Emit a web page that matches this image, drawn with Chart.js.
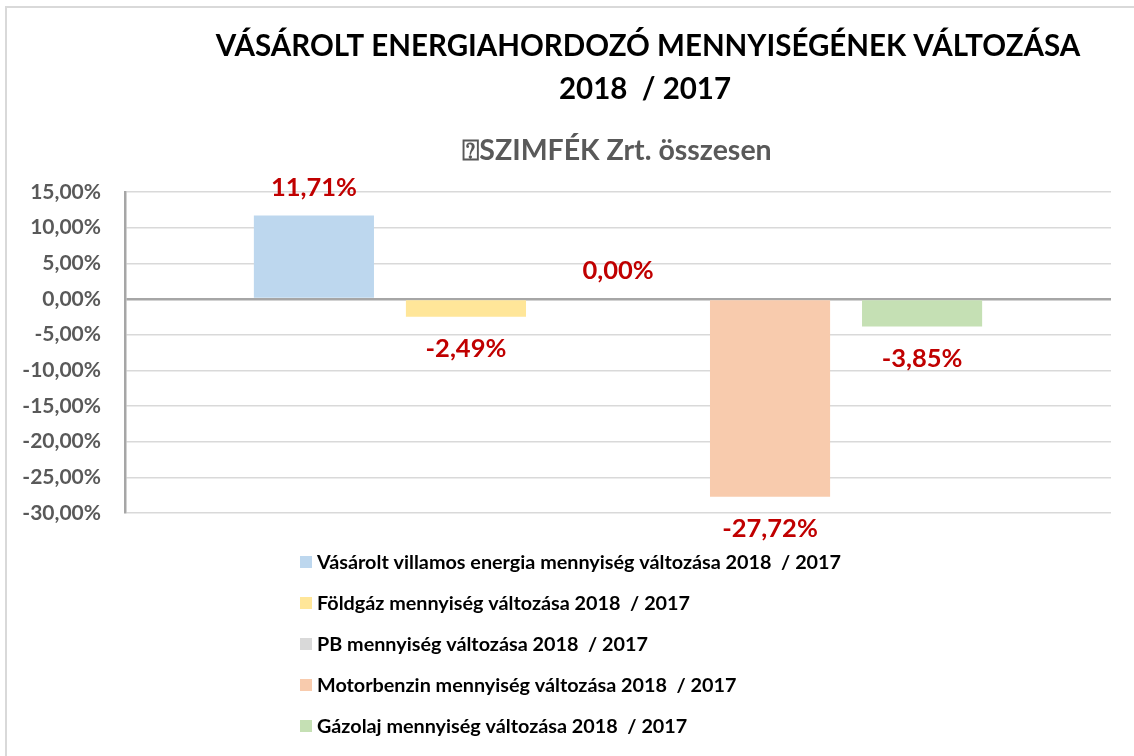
<!DOCTYPE html>
<html>
<head>
<meta charset="utf-8">
<script src="https://cdn.jsdelivr.net/npm/chart.js@4.4.1/dist/chart.umd.min.js"></script>
<style>
  html, body { margin: 0; padding: 0; background: #fff; overflow: hidden; }
  #wrap { width: 1134px; height: 756px; }
</style>
</head>
<body>
<div id="wrap"><canvas id="chart" width="1134" height="756"></canvas></div>
<script>
const titleLines = ["VÁSÁROLT ENERGIAHORDOZÓ MENNYISÉGÉNEK VÁLTOZÁSA", "2018  / 2017"];
const subtitleText = "⍰SZIMFÉK Zrt. összesen";
const categories = [""];
const seriesNames = [
  "Vásárolt villamos energia mennyiség változása 2018  / 2017",
  "Földgáz mennyiség változása 2018  / 2017",
  "PB mennyiség változása 2018  / 2017",
  "Motorbenzin mennyiség változása 2018  / 2017",
  "Gázolaj mennyiség változása 2018  / 2017",
];
const seriesValues = [11.71, -2.49, 0.0, -27.72, -3.85];
const seriesColors = ["#bdd7ee", "#ffe699", "#d9d9d9", "#f8cbad", "#c5e0b4"];
const yTicks = [15, 10, 5, 0, -5, -10, -15, -20, -25, -30];

const FONT = "Lato, 'Open Sans', sans-serif";

function fmt(v) {
  return v.toFixed(2).replace(".", ",") + "%";
}

// frame + titles
const frameAndTitles = {
  id: "frameAndTitles",
  beforeDraw(chart) {
    const ctx = chart.ctx;
    ctx.save();
    ctx.strokeStyle = "#d9d9d9";
    ctx.lineWidth = 2;
    ctx.beginPath();
    ctx.moveTo(6, 756);
    ctx.lineTo(6, 7);
    ctx.lineTo(1134, 7);
    ctx.stroke();

    ctx.fillStyle = "#000";
    ctx.textAlign = "center";
    ctx.textBaseline = "middle";
    ctx.font = `bold 29.5px ${FONT}`;
    ctx.fillText(titleLines[0], 648, 46);
    ctx.fillText(titleLines[1], 645, 89);

    ctx.fillStyle = "#595959";
    ctx.font = `bold 28.5px ${FONT}`;
    ctx.fillText(subtitleText, 617, 151);
    ctx.restore();
  },
};

const valueLabels = {
  id: "valueLabels",
  afterDatasetsDraw(chart) {
    const ctx = chart.ctx;
    ctx.save();
    ctx.font = `bold 25.5px ${FONT}`;
    ctx.fillStyle = "#c00000";
    ctx.textAlign = "center";
    ctx.textBaseline = "middle";
    chart.data.datasets.forEach((ds, i) => {
      const bar = chart.getDatasetMeta(i).data[0];
      const v = ds.data[0];
      const y = v >= 0 ? bar.y - 28 : bar.y + 32;
      ctx.fillText(fmt(v), bar.x, y);
    });
    ctx.restore();
  },
};

// vertical legend under the plot
const sideLegend = {
  id: "sideLegend",
  afterDraw(chart) {
    const ctx = chart.ctx;
    ctx.save();
    ctx.font = `bold 19.8px ${FONT}`;
    ctx.textBaseline = "middle";
    ctx.textAlign = "left";
    chart.data.datasets.forEach((ds, i) => {
      const y = 562 + i * 41;
      ctx.fillStyle = ds.backgroundColor;
      ctx.fillRect(300, y - 6, 12, 12);
      ctx.fillStyle = "#000";
      ctx.fillText(ds.label, 317, y + 1);
    });
    ctx.restore();
  },
};

new Chart(document.getElementById("chart"), {
  type: "bar",
  data: {
    labels: categories,
    datasets: seriesNames.map((name, i) => ({
      label: name,
      data: [seriesValues[i]],
      backgroundColor: seriesColors[i],
      borderWidth: 0,
      categoryPercentage: 0.771,
      barPercentage: 0.79,
    })),
  },
  options: {
    responsive: false,
    animation: false,
    layout: { padding: { top: 192, bottom: 243, left: 5, right: 23 } },
    plugins: {
      legend: { display: false },
      title: { display: false },
      tooltip: { enabled: false },
    },
    scales: {
      x: { display: false },
      y: {
        min: -30,
        max: 15,
        afterBuildTicks: (axis) => {
          axis.ticks = yTicks.map((v) => ({ value: v }));
        },
        afterFit: (axis) => {
          axis.width = 120;
        },
        border: { display: true, color: "#a6a6a6", width: 2.5 },
        grid: {
          drawTicks: false,
          color: (c) => (c.tick && c.tick.value === 0 ? "#a6a6a6" : "#d9d9d9"),
          lineWidth: (c) => (c.tick && c.tick.value === 0 ? 2.5 : 1.5),
        },
        ticks: {
          padding: 24,
          color: "#595959",
          font: { family: FONT, weight: "bold", size: 21 },
          callback: (v) => fmt(v),
        },
      },
    },
  },
  plugins: [frameAndTitles, valueLabels, sideLegend],
});
</script>
</body>
</html>
